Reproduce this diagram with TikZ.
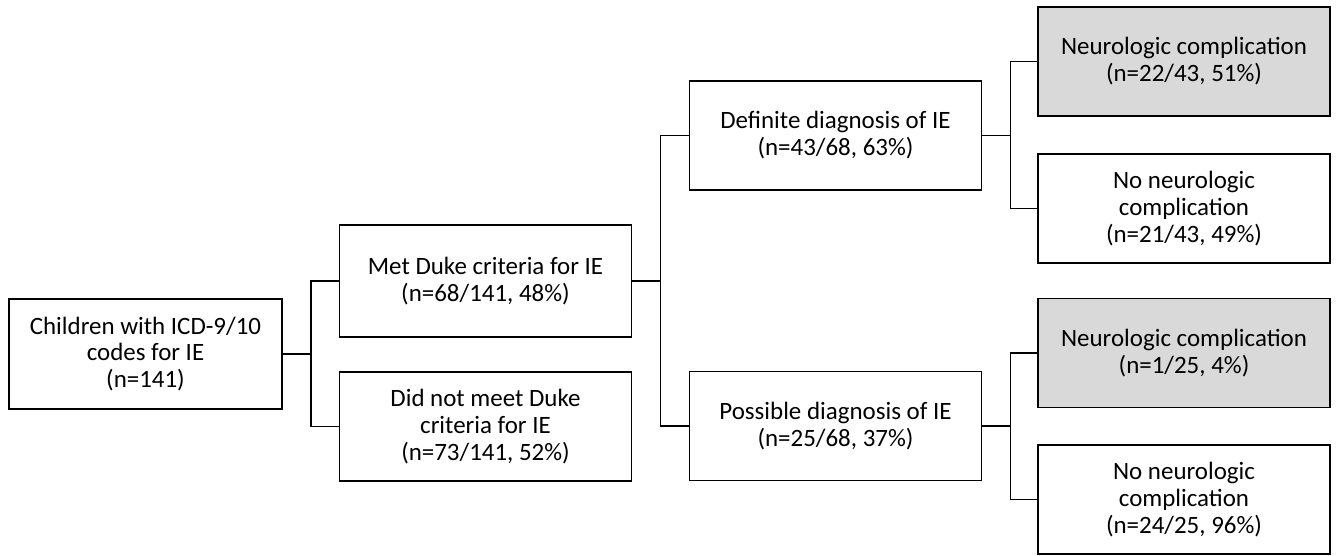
\documentclass[tikz,border=0pt]{standalone}
\usepackage{fontspec}
\setmainfont{Carlito}
\usepackage{tikz}
\definecolor{boxgray}{RGB}{217,217,217}

\begin{document}
\begin{tikzpicture}
  [x=0.02cm,y=-0.02cm,line width=0.8pt,
   every node/.style={draw,rectangle,align=center,inner sep=2pt,
     minimum width=5.84cm,minimum height=2.18cm,
     font=\fontsize{14.2}{15.3}\selectfont}]
  \useasboundingbox (0,0) rectangle (1337,555);
  \node [minimum width=5.46cm,minimum height=2.2cm] (n1) at (145.5,354) {Children with ICD-9/10\\codes for IE\\(n=141)};
  \node [minimum height=2.24cm] (n2) at (485.5,281) {Met Duke criteria for IE\\(n=68/141, 48\%)};
  \node (n3) at (485.5,426.5) {Did not meet Duke\\criteria for IE\\(n=73/141, 52\%)};
  \node (n4) at (835.5,135.5) {Definite diagnosis of IE\\(n=43/68, 63\%)};
  \node (n5) at (835.5,426) {Possible diagnosis of IE\\(n=25/68, 37\%)};
  \node [fill=boxgray] (n6) at (1184,61.5) {Neurologic complication\\(n=22/43, 51\%)};
  \node (n7) at (1184,208.5) {No neurologic\\complication\\(n=21/43, 49\%)};
  \node [fill=boxgray] (n8) at (1184,353) {Neurologic complication\\(n=1/25, 4\%)};
  \node (n9) at (1184,499.5) {No neurologic\\complication\\(n=24/25, 96\%)};

  \foreach \from/\to in {n1/n2,n1/n3,n2/n4,n2/n5,n4/n6,n4/n7,n5/n8,n5/n9}
    \draw (\from.east) -- ++(28.5,0) |- (\to.west);

\end{tikzpicture}
\end{document}
